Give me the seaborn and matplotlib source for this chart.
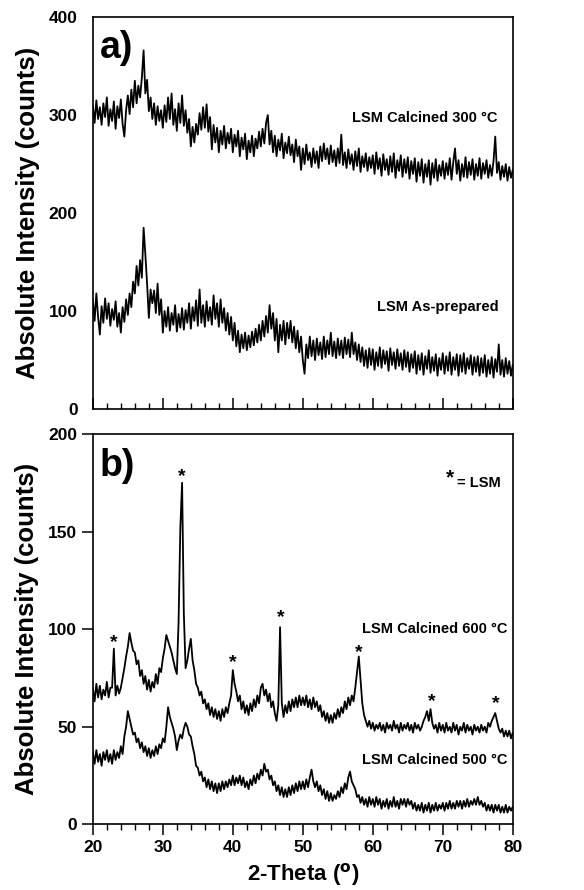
import numpy as np
import pandas as pd
import seaborn as sns
import matplotlib.pyplot as plt
from matplotlib.ticker import MultipleLocator
from matplotlib import font_manager

# 2-theta grid, 0.25 deg steps from 20 to 80
two_theta = np.linspace(20, 80, 241)

# (a) LSM calcined 300 C, counts
cal300 = [
    310, 292, 315, 296, 308, 290, 312, 298, 318, 289, 306, 294, 314, 286, 309, 297, 316, 291, 278, 305,
    320, 301, 326, 308, 335, 312, 330, 318, 338, 366, 322, 336, 304, 318, 296, 312, 290, 309, 294, 305,
    287, 310, 293, 318, 296, 322, 290, 306, 284, 312, 292, 320, 289, 305, 282, 296, 268, 288, 272, 291,
    280, 302, 285, 308, 287, 311, 283, 298, 265, 290, 272, 287, 262, 284, 270, 289, 266, 282, 271, 286,
    262, 280, 268, 284, 258, 277, 265, 281, 255, 274, 262, 279, 258, 276, 266, 283, 268, 286, 271, 292,
    300, 270, 284, 262, 279, 258, 275, 264, 281, 256, 272, 261, 278, 259, 270, 252, 275, 258, 268, 244,
    266, 250, 270, 254, 262, 247, 266, 251, 263, 246, 268, 253, 271, 255, 266, 250, 269, 252, 264, 248,
    266, 251, 280, 249, 262, 246, 265, 250, 260, 244, 263, 248, 266, 242, 258, 247, 261, 243, 257, 246,
    259, 240, 262, 245, 256, 238, 260, 244, 255, 239, 258, 242, 261, 236, 254, 243, 259, 237, 255, 241,
    257, 235, 253, 240, 256, 232, 252, 238, 255, 231, 250, 237, 254, 229, 251, 236, 255, 233, 249, 238,
    253, 235, 251, 239, 256, 234, 252, 266, 240, 254, 233, 250, 237, 257, 236, 252, 239, 255, 234, 250,
    238, 256, 235, 251, 240, 254, 236, 249, 238, 253, 278, 241, 252, 234, 248, 237, 250, 233, 247, 236,
    244,
]

# (a) LSM as-prepared
asprep = [
    112, 90, 118, 94, 76, 105, 88, 113, 92, 108, 85, 102, 91, 110, 84, 98, 78, 104, 89, 112,
    96, 118, 104, 130, 118, 146, 126, 152, 134, 185, 158, 128, 93, 122, 108, 121, 98, 128, 96, 112,
    78, 100, 84, 104, 80, 98, 86, 106, 79, 97, 83, 103, 81, 101, 88, 108, 82, 104, 90, 111,
    85, 122, 88, 106, 84, 110, 90, 104, 86, 116, 92, 108, 84, 112, 88, 103, 80, 98, 76, 94,
    70, 88, 64, 80, 58, 76, 62, 78, 60, 75, 63, 79, 65, 82, 68, 86, 70, 90, 74, 95,
    78, 106, 82, 98, 70, 92, 58, 86, 70, 90, 66, 88, 72, 90, 68, 84, 62, 80, 58, 74,
    50, 36, 66, 52, 74, 54, 70, 50, 72, 55, 68, 51, 74, 53, 70, 56, 78, 54, 69, 52,
    72, 55, 70, 52, 73, 56, 71, 53, 78, 56, 68, 50, 66, 48, 63, 44, 60, 42, 62, 45,
    61, 40, 58, 44, 63, 42, 60, 46, 59, 39, 62, 45, 58, 41, 61, 44, 57, 40, 60, 43,
    58, 38, 56, 42, 59, 36, 55, 40, 57, 35, 54, 41, 60, 37, 53, 39, 56, 34, 52, 40,
    57, 36, 54, 39, 58, 35, 53, 40, 56, 34, 55, 38, 57, 36, 52, 41, 55, 35, 53, 38,
    54, 34, 52, 37, 55, 33, 50, 36, 53, 32, 51, 38, 66, 35, 50, 33, 52, 36, 49, 34,
    45,
]

# (b) LSM calcined 600 C
cal600 = [
    70, 63, 72, 65, 71, 64, 69, 66, 73, 65, 70, 70, 90, 66, 71, 67, 70, 75, 80, 86,
    91, 98, 93, 89, 88, 82, 84, 76, 79, 72, 76, 69, 74, 68, 73, 70, 77, 72, 80, 78,
    85, 90, 97, 94, 91, 88, 84, 80, 77, 104, 152, 175, 108, 80, 84, 90, 95, 84, 79, 72,
    70, 66, 68, 62, 64, 59, 62, 56, 60, 55, 59, 54, 58, 53, 59, 55, 60, 57, 62, 66,
    79, 72, 68, 63, 66, 59, 63, 57, 61, 56, 62, 58, 64, 60, 66, 62, 70, 72, 66, 69,
    63, 67, 60, 63, 57, 53, 61, 101, 62, 55, 61, 57, 63, 58, 64, 60, 65, 60, 66, 61,
    65, 61, 66, 60, 64, 59, 65, 60, 63, 58, 61, 55, 58, 53, 57, 52, 56, 52, 57, 54,
    59, 55, 60, 57, 63, 59, 65, 61, 66, 63, 70, 78, 86, 74, 62, 56, 53, 50, 53, 49,
    52, 48, 51, 49, 52, 48, 51, 47, 52, 49, 51, 48, 53, 49, 51, 47, 52, 48, 51, 49,
    52, 48, 51, 47, 52, 49, 51, 48, 50, 53, 55, 58, 53, 59, 52, 49, 51, 47, 52, 48,
    51, 47, 52, 48, 50, 47, 52, 48, 51, 46, 50, 48, 52, 47, 51, 48, 50, 46, 51, 48,
    50, 47, 51, 48, 50, 47, 52, 50, 53, 55, 57, 53, 49, 47, 49, 45, 48, 45, 48, 44,
    47,
]

# (b) LSM calcined 500 C
cal500 = [
    37, 31, 38, 32, 36, 30, 37, 33, 38, 32, 36, 31, 38, 33, 37, 34, 40, 36, 45, 50,
    58, 54, 50, 46, 47, 42, 44, 39, 42, 37, 40, 35, 39, 34, 38, 35, 40, 36, 41, 39,
    44, 42, 50, 60, 55, 52, 49, 45, 38, 43, 46, 44, 49, 52, 50, 46, 45, 40, 36, 30,
    29, 25, 27, 22, 24, 19, 23, 18, 22, 17, 21, 16, 21, 17, 22, 18, 22, 19, 23, 20,
    25, 20, 24, 21, 25, 20, 24, 19, 22, 18, 23, 20, 25, 21, 26, 23, 28, 25, 31, 27,
    28, 23, 25, 20, 22, 17, 20, 15, 19, 14, 18, 14, 19, 15, 20, 16, 21, 17, 22, 18,
    22, 18, 23, 19, 24, 28, 22, 19, 22, 17, 20, 15, 18, 13, 17, 12, 16, 12, 15, 13,
    17, 14, 19, 16, 21, 18, 24, 27, 22, 20, 18, 14, 15, 11, 14, 10, 13, 9, 14, 10,
    13, 9, 14, 10, 13, 8, 12, 9, 13, 8, 12, 9, 14, 9, 12, 8, 13, 10, 13, 9,
    13, 10, 12, 8, 11, 7, 10, 7, 11, 6, 10, 7, 11, 6, 10, 7, 11, 7, 10, 8,
    11, 7, 11, 8, 12, 8, 11, 8, 12, 9, 12, 8, 12, 9, 13, 9, 12, 10, 13, 10,
    14, 10, 12, 9, 11, 7, 10, 7, 10, 6, 10, 7, 10, 6, 9, 6, 10, 6, 9, 7,
    9,
]

# LSM reflections marked with * in panel (b): position and label height
star_theta = [23.0, 32.7, 40.0, 46.8, 58.0, 68.4, 77.6]
star_counts = [93, 178, 83, 106, 88, 63, 62]

df = pd.DataFrame({'two_theta': two_theta, 'cal300': cal300, 'asprep': asprep,
                   'cal600': cal600, 'cal500': cal500})

sns.set_style('ticks')
names = [f.name for f in font_manager.fontManager.ttflist]
fam = 'Liberation Sans Narrow' if 'Liberation Sans Narrow' in names else 'Liberation Sans'
plt.rcParams['font.family'] = [fam, 'DejaVu Sans']
plt.rcParams['font.weight'] = 'bold'
plt.rcParams['axes.labelweight'] = 'bold'
for key in ['text.color', 'axes.labelcolor', 'xtick.color', 'ytick.color', 'axes.edgecolor']:
    plt.rcParams[key] = 'black'

wide = ['Liberation Sans', 'DejaVu Sans']

fig = plt.figure(figsize=(5.84, 8.90), dpi=100)
ax_a = fig.add_axes([0.159, 0.5404, 0.719, 0.4404])
ax_b = fig.add_axes([0.159, 0.0738, 0.719, 0.4386])

for ax in (ax_a, ax_b):
    for sp in ax.spines.values():
        sp.set_visible(True)
        sp.set_linewidth(1.2)
        sp.set_color('black')
    ax.set_xlim(20, 80)
    ax.xaxis.set_major_locator(MultipleLocator(10))
    ax.xaxis.set_minor_locator(MultipleLocator(2))

# panel a
sns.lineplot(data=df, x='two_theta', y='cal300', ax=ax_a, color='black', lw=1.3, estimator=None)
sns.lineplot(data=df, x='two_theta', y='asprep', ax=ax_a, color='black', lw=1.3, estimator=None)
ax_a.set_ylim(0, 400)
ax_a.yaxis.set_major_locator(MultipleLocator(100))
ax_a.tick_params(axis='x', which='major', direction='in', length=8, width=1.1, labelbottom=False)
ax_a.tick_params(axis='x', which='minor', direction='in', length=4, width=1.0)
ax_a.tick_params(axis='y', length=0, labelsize=12.5, pad=11)
ax_a.set_xlabel('')
ax_a.set_ylabel('Absolute Intensity (counts)', fontsize=18.5, labelpad=6, family=wide)
ax_a.text(21.0, 387, 'a)', fontsize=27, fontweight='bold', va='top', ha='left')
ax_a.text(77.8, 297, 'LSM Calcined 300 °C', fontsize=10.5, ha='right', va='center', family=wide)
ax_a.text(78.0, 104, 'LSM As-prepared', fontsize=10.5, ha='right', va='center', family=wide)

# panel b
sns.lineplot(data=df, x='two_theta', y='cal600', ax=ax_b, color='black', lw=1.3, estimator=None)
sns.lineplot(data=df, x='two_theta', y='cal500', ax=ax_b, color='black', lw=1.3, estimator=None)
ax_b.set_ylim(0, 200)
ax_b.yaxis.set_major_locator(MultipleLocator(50))
ax_b.tick_params(axis='x', which='major', direction='out', length=8, width=1.1, labelsize=12.5)
ax_b.tick_params(axis='x', which='minor', direction='out', length=4, width=1.0)
ax_b.tick_params(axis='y', direction='out', length=8, width=1.1, labelsize=12.5)
ax_b.set_xlabel('2-Theta ($^{\\mathbf{o}}$)', fontsize=16, family=wide)
ax_b.set_ylabel('Absolute Intensity (counts)', fontsize=18.5, labelpad=6, family=wide)
ax_b.text(21.0, 193, 'b)', fontsize=27, fontweight='bold', va='top', ha='left')
for t, c in zip(star_theta, star_counts):
    ax_b.text(t, c, '*', fontsize=14, ha='center', va='center')
ax_b.text(71.0, 177.5, '*', fontsize=15, ha='center', va='center')
ax_b.text(78.3, 175, '= LSM', fontsize=10.5, ha='right', va='center', family=wide)
ax_b.text(79.3, 100, 'LSM Calcined 600 °C', fontsize=10.5, ha='right', va='center', family=wide)
ax_b.text(79.3, 33, 'LSM Calcined 500 °C', fontsize=10.5, ha='right', va='center', family=wide)

fig.savefig('out.png', dpi=100)
